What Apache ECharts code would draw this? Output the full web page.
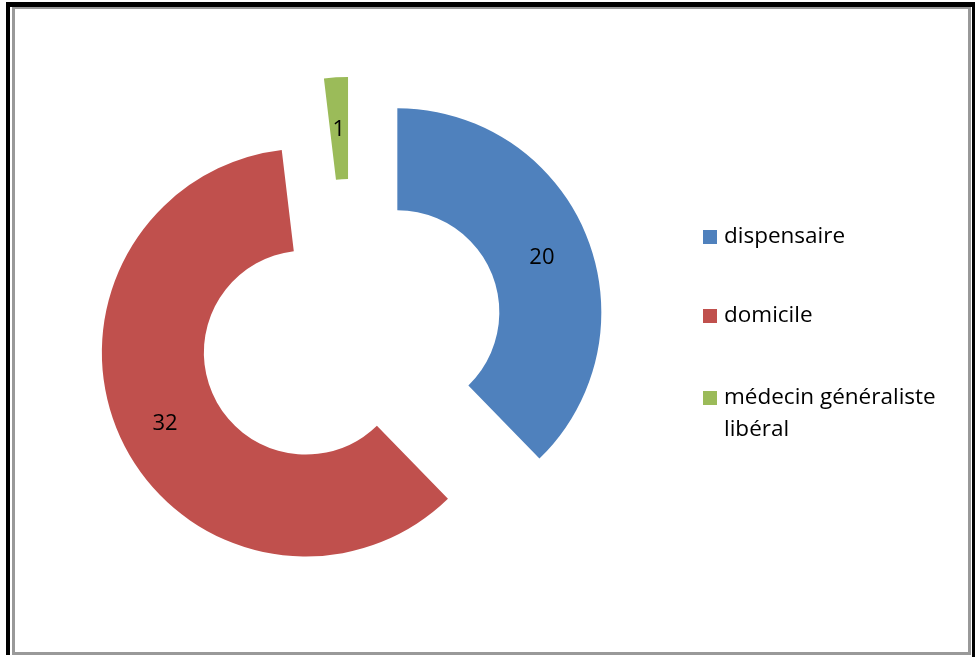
<!DOCTYPE html>
<html>
<head>
<meta charset="utf-8">
<script src="https://cdn.jsdelivr.net/npm/echarts@6/dist/echarts.min.js"></script>
<style>
html,body{margin:0;padding:0;background:#fff;}
#chart{width:975px;height:657px;}
</style>
</head>
<body>
<div id="chart"></div>
<script>
const categories = ['dispensaire', 'domicile', 'médecin généraliste libéral'];
const values = [20, 32, 1];
const colors = ['#4F81BD', '#C0504D', '#9BBB59'];
const legendLabels = ['dispensaire', 'domicile', '\nmédecin généraliste\nlibéral'];

const chart = echarts.init(document.getElementById('chart'));
const textStyle = { fontFamily: 'Open Sans', fontSize: 22.5, lineHeight: 32, color: '#000', padding: [0, 0, 0, 2] };
const legendFormatter = function (name) {
  return legendLabels[categories.indexOf(name)];
};

chart.setOption({
  animation: false,
  backgroundColor: '#fff',
  graphic: [
    { type: 'rect', shape: { x: 6, y: 2, width: 969, height: 5 }, style: { fill: '#000' } },
    { type: 'rect', shape: { x: 6, y: 2, width: 4, height: 653 }, style: { fill: '#000' } },
    { type: 'rect', shape: { x: 972, y: 2, width: 3, height: 655 }, style: { fill: '#000' } },
    { type: 'rect', shape: { x: 12, y: 7, width: 959, height: 2 }, style: { fill: '#999' } },
    { type: 'rect', shape: { x: 12, y: 7, width: 3, height: 648 }, style: { fill: '#999' } },
    { type: 'rect', shape: { x: 968, y: 7, width: 3, height: 648 }, style: { fill: '#999' } },
    { type: 'rect', shape: { x: 12, y: 652, width: 959, height: 3 }, style: { fill: '#999' } }
  ],
  legend: [
    {
      orient: 'vertical', left: 703, top: 221, padding: 0,
      itemWidth: 14, itemHeight: 14, itemGap: 47, icon: 'rect',
      data: categories.slice(0, 2), formatter: legendFormatter, textStyle: textStyle,
      selectedMode: false
    },
    {
      orient: 'vertical', left: 703, top: 350, padding: 0,
      itemWidth: 14, itemHeight: 14, icon: 'rect',
      data: categories.slice(2), formatter: legendFormatter, textStyle: textStyle,
      selectedMode: false
    }
  ],
  series: [{
    type: 'pie',
    center: [351, 331],
    radius: [102, 204],
    startAngle: 90,
    clockwise: true,
    selectedMode: 'multiple',
    selectedOffset: 50,
    avoidLabelOverlap: false,
    label: {
      show: true, position: 'inside', formatter: '{s| }\n{v|{c}}', color: '#000',
      rich: {
        s: { fontSize: 1, lineHeight: 8 },
        v: { fontFamily: 'Open Sans', fontSize: 22, lineHeight: 30, color: '#000' }
      }
    },
    labelLine: { show: false },
    emphasis: { disabled: true },
    select: { itemStyle: { borderWidth: 0 }, label: { color: '#000' } },
    itemStyle: { borderWidth: 0 },
    data: categories.map((n, i) => ({ name: n, value: values[i], selected: true, itemStyle: { color: colors[i] } }))
  }]
});
</script>
</body>
</html>
